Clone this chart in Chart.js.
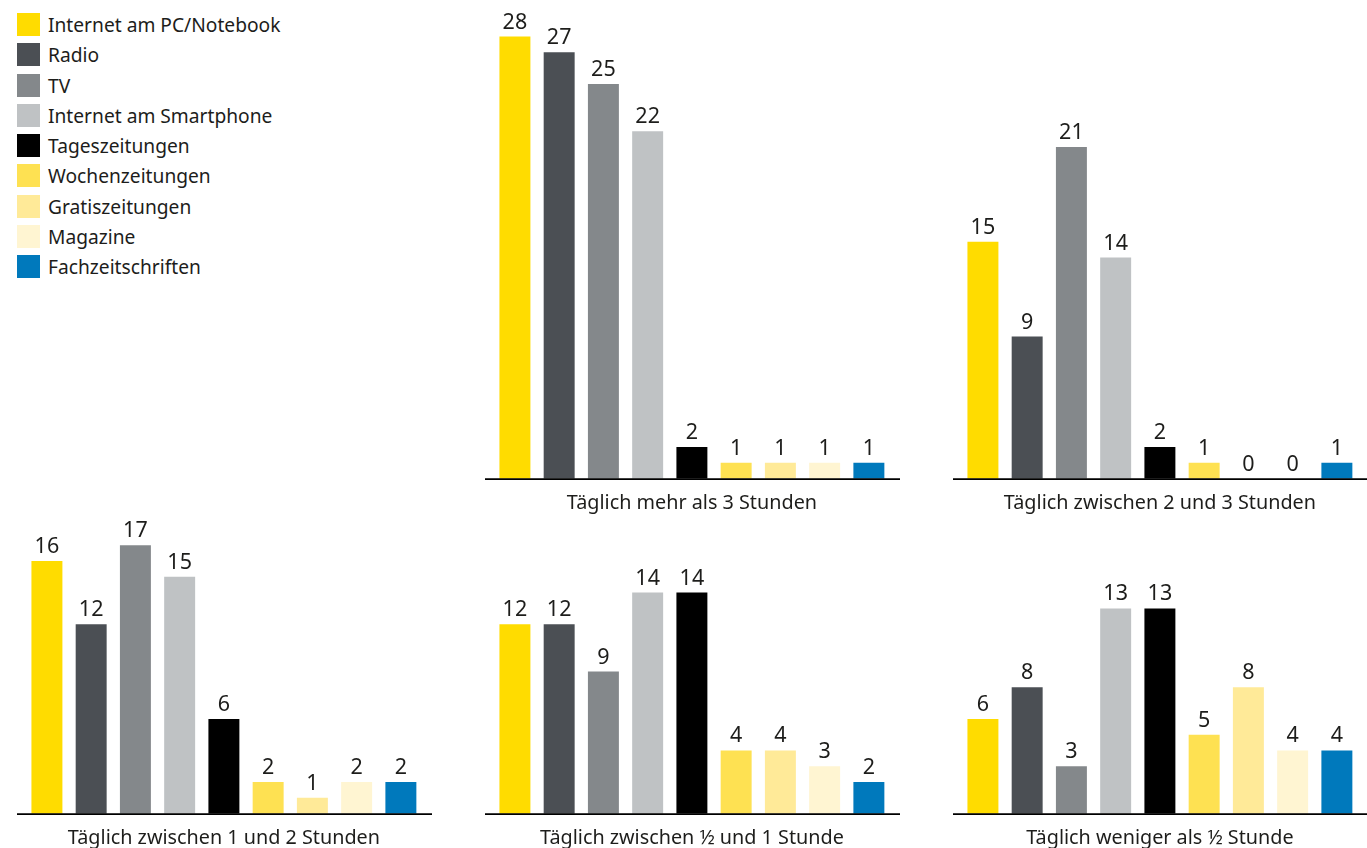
<!DOCTYPE html>
<html lang="de">
<head>
<meta charset="utf-8">
<title>Mediennutzung nach Dauer</title>
<script src="https://cdn.jsdelivr.net/npm/chart.js@4/dist/chart.umd.min.js"></script>
<style>
  html, body { margin: 0; padding: 0; background: #ffffff; overflow: hidden; }
  body { width: 1367px; height: 848px; position: relative; font-family: "Noto Sans", sans-serif; color: #1d1d1b; }
  .panel { position: absolute; }
  .panel canvas { display: block; }
  #legend { position: absolute; left: 17px; top: 13px; margin: 0; padding: 0; list-style: none; }
  #legend li { height: 30.3px; display: flex; align-items: flex-start; }
  #legend .swatch { width: 23px; height: 23px; flex: none; }
  #legend .label { margin-left: 8px; font-size: 19.2px; line-height: 23px; white-space: nowrap; }
</style>
</head>
<body>
<ul id="legend"></ul>

<script>
// Media types (legend order = bar order in every panel)
const MEDIA = [
  "Internet am PC/Notebook",
  "Radio",
  "TV",
  "Internet am Smartphone",
  "Tageszeitungen",
  "Wochenzeitungen",
  "Gratiszeitungen",
  "Magazine",
  "Fachzeitschriften"
];

// Usage-duration groups, one panel each
const DURATIONS = [
  "Täglich mehr als 3 Stunden",
  "Täglich zwischen 2 und 3 Stunden",
  "Täglich zwischen 1 und 2 Stunden",
  "Täglich zwischen ½ und 1 Stunde",
  "Täglich weniger als ½ Stunde"
];

// Values per duration group, in MEDIA order
const MORE_THAN_3H   = [28, 27, 25, 22, 2, 1, 1, 1, 1];
const BETWEEN_2_3H   = [15, 9, 21, 14, 2, 1, 0, 0, 1];
const BETWEEN_1_2H   = [16, 12, 17, 15, 6, 2, 1, 2, 2];
const BETWEEN_HALF_1 = [12, 12, 9, 14, 14, 4, 4, 3, 2];
const LESS_THAN_HALF = [6, 8, 3, 13, 13, 5, 8, 4, 4];

const SERIES = [MORE_THAN_3H, BETWEEN_2_3H, BETWEEN_1_2H, BETWEEN_HALF_1, LESS_THAN_HALF];

// Bar colours per media type
const COLORS = [
  "#ffdc00", "#4b4f54", "#84888b", "#bfc2c4", "#000000",
  "#fee152", "#ffea98", "#fff5d2", "#0079bc"
];

// Panel placement on the page (left, top in px)
const PANEL_POS = [
  [485, 0], [953, 0],
  [17, 335], [485, 335], [953, 335]
];

const TEXT_COLOR = "#1d1d1b";
const FONT = "'Noto Sans', sans-serif";

// Legend
const legendEl = document.getElementById("legend");
MEDIA.forEach((name, i) => {
  const li = document.createElement("li");
  const sw = document.createElement("span");
  sw.className = "swatch";
  sw.style.background = COLORS[i];
  const lb = document.createElement("span");
  lb.className = "label";
  lb.textContent = name;
  li.appendChild(sw);
  li.appendChild(lb);
  legendEl.appendChild(li);
});

// Baseline running across the full panel width
const baselinePlugin = {
  id: "baseline",
  afterDatasetsDraw(chart) {
    const { ctx, chartArea, width } = chart;
    const y = chartArea.bottom + 0.5;
    ctx.save();
    ctx.strokeStyle = "#000000";
    ctx.lineWidth = 1.6;
    ctx.beginPath();
    ctx.moveTo(0, y);
    ctx.lineTo(width, y);
    ctx.stroke();
    ctx.restore();
  }
};

// Value labels above each bar
const valueLabelPlugin = {
  id: "valueLabels",
  afterDatasetsDraw(chart) {
    const { ctx } = chart;
    const ds = chart.data.datasets[0];
    const meta = chart.getDatasetMeta(0);
    ctx.save();
    ctx.font = "21.5px " + FONT;
    ctx.fillStyle = TEXT_COLOR;
    ctx.textAlign = "center";
    ctx.textBaseline = "alphabetic";
    meta.data.forEach((bar, i) => {
      ctx.fillText(String(ds.data[i]), bar.x, bar.y - 8);
    });
    ctx.restore();
  }
};

SERIES.forEach((values, p) => {
  const wrap = document.createElement("div");
  wrap.className = "panel";
  wrap.style.left = PANEL_POS[p][0] + "px";
  wrap.style.top = PANEL_POS[p][1] + "px";
  const canvas = document.createElement("canvas");
  canvas.width = 415;
  canvas.height = 520;
  canvas.style.width = "415px";
  canvas.style.height = "520px";
  wrap.appendChild(canvas);
  document.body.appendChild(wrap);

  new Chart(canvas, {
    type: "bar",
    data: {
      labels: MEDIA,
      datasets: [{
        data: values,
        backgroundColor: COLORS,
        borderWidth: 0,
        barPercentage: 0.7,
        categoryPercentage: 1
      }]
    },
    options: {
      responsive: false,
      animation: false,
      devicePixelRatio: 1,
      layout: { padding: { left: 7.8, right: 9, top: 5, bottom: 4.5 } },
      plugins: {
        legend: { display: false },
        tooltip: { enabled: false }
      },
      scales: {
        x: {
          grid: { display: false, drawTicks: false },
          border: { display: false },
          ticks: { display: false },
          title: {
            display: true,
            text: DURATIONS[p],
            color: TEXT_COLOR,
            font: { family: FONT, size: 19.8 },
            padding: { top: 13.1, bottom: 0 }
          }
        },
        y: { display: false, min: 0, max: 30 }
      }
    },
    plugins: [baselinePlugin, valueLabelPlugin]
  });
});
</script>
</body>
</html>
